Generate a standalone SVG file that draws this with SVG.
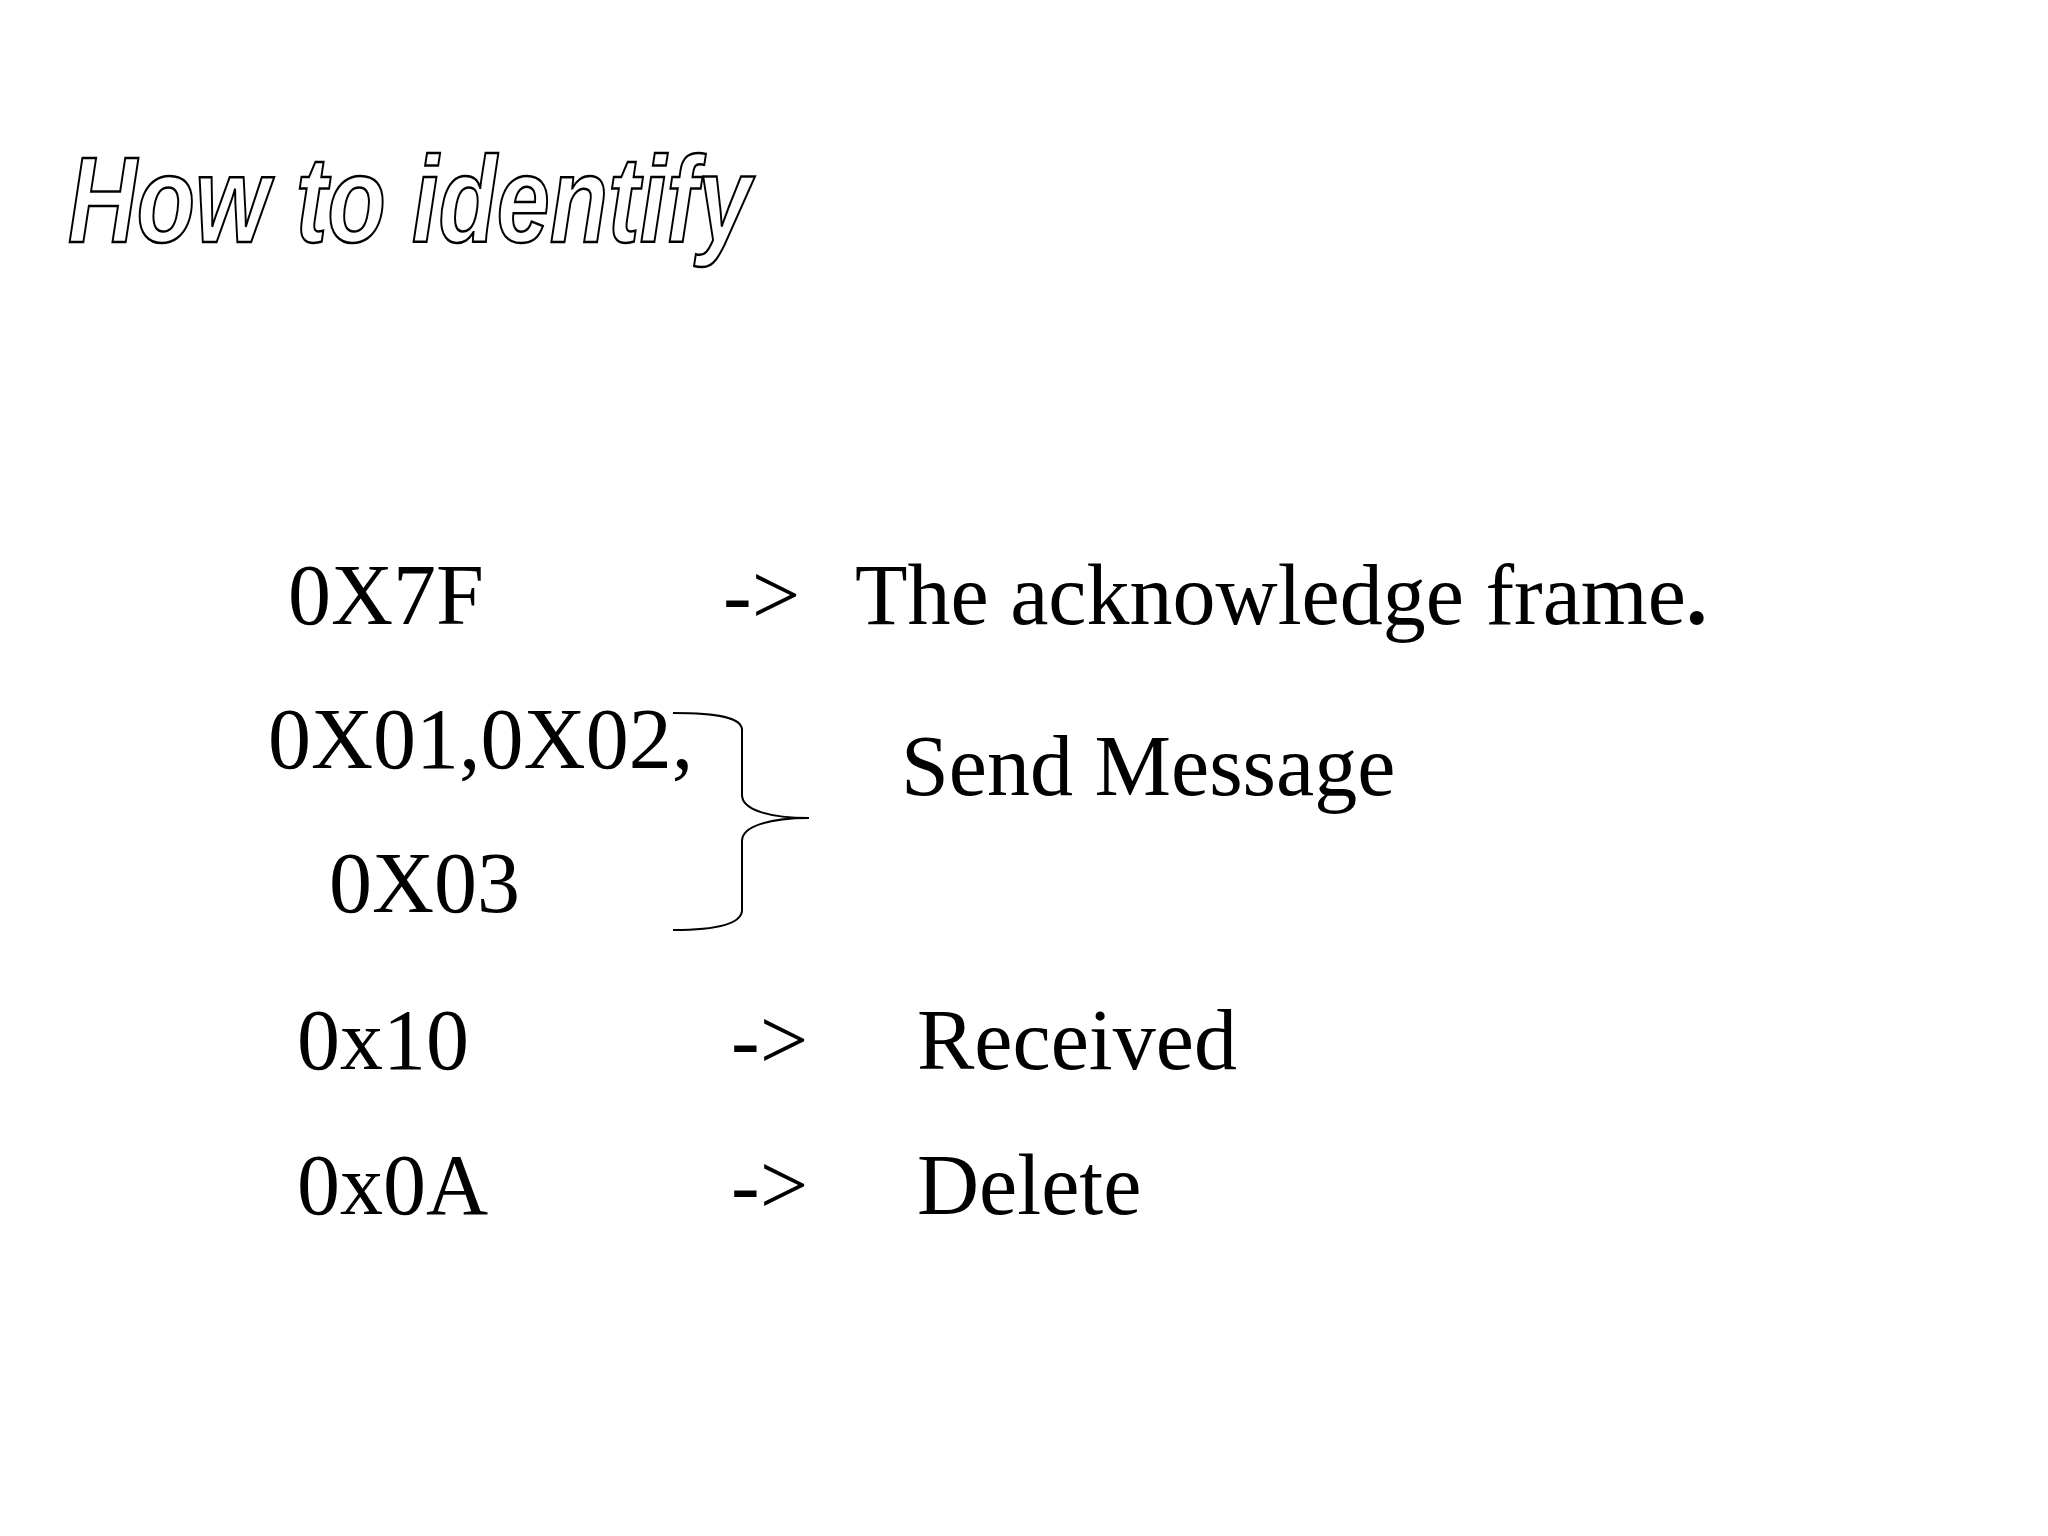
<svg xmlns="http://www.w3.org/2000/svg" width="2048" height="1536" viewBox="0 0 2048 1536">
<style>
.t{font-family:"Liberation Serif",serif;font-size:86px;fill:#000}
.h{font-family:"Liberation Sans",sans-serif;font-size:122px;font-weight:bold;font-style:italic;fill:#fff;stroke:#000;stroke-width:2.5}
</style>
<rect width="2048" height="1536" fill="#fff"/>
<g id="title"><text class="h" x="68" y="242" textLength="683" lengthAdjust="spacingAndGlyphs">How to identify</text></g>
<g id="row1"><text class="t" x="288" y="624">0X7F</text><text class="t" x="723" y="624">-&gt;</text><text class="t" x="855" y="624">The acknowledge frame<tspan font-weight="bold">.</tspan></text></g>
<g id="row2"><text class="t" x="268" y="768">0X01,0X02,</text><text class="t" x="329" y="912">0X03</text><text class="t" x="901" y="795">Send Message</text></g>
<g id="connectors"><path d="M673,713 C720,713 742,718 742,730 L742,795 C742,810 770,818 809,818 C770,818 742,826 742,841 L742,910 C742,923 720,930 673,930" fill="none" stroke="#000" stroke-width="2"/></g>
<g id="row3"><text class="t" x="297" y="1069">0x10</text><text class="t" x="731" y="1069">-&gt;</text><text class="t" x="917" y="1069">Received</text></g>
<g id="row4"><text class="t" x="297" y="1214">0x0A</text><text class="t" x="731" y="1214">-&gt;</text><text class="t" x="917" y="1214">Delete</text></g>
</svg>
